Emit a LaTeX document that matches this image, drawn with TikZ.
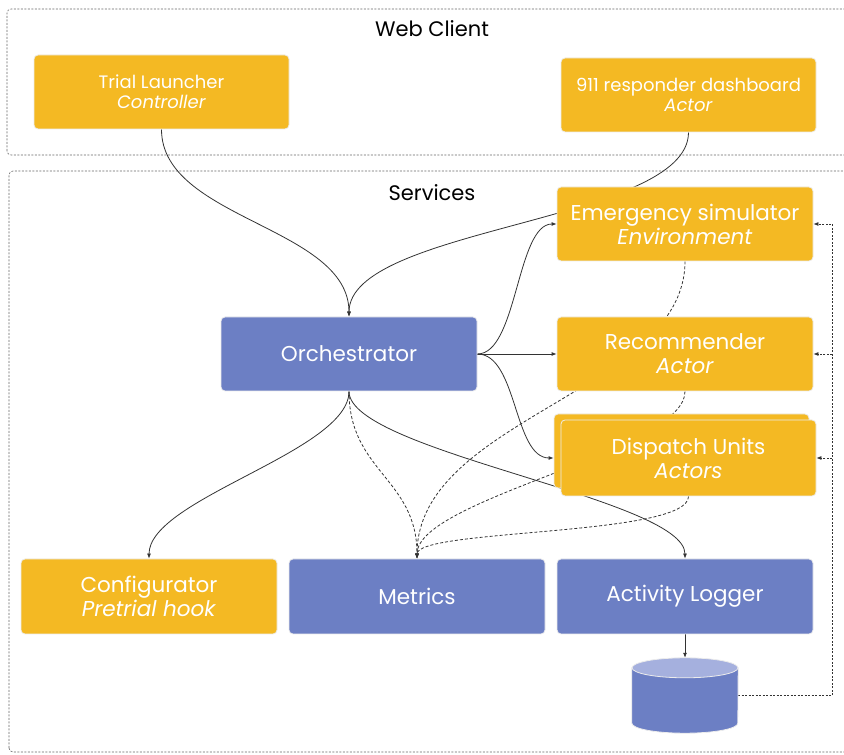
\documentclass[tikz,border=0pt]{standalone}
\usepackage{fontspec}
\setmainfont{Poppins}
\usepackage{tikz}
\usepackage{xcolor}
\usetikzlibrary{arrows.meta}
\usetikzlibrary{backgrounds}
\definecolor{boxorange}{HTML}{F4B923}
\definecolor{boxblue}{HTML}{6C7FC4}
\definecolor{dbtop}{HTML}{A5B0DE}
\definecolor{linegray}{HTML}{333333}
\tikzset{>={Latex[length=5pt,width=4pt]}}
\tikzset{
	tile/.style={rounded corners=4pt, draw=white!85!gray, line width=0.8pt, text=white, minimum width=256pt, minimum height=74pt, inner sep=0pt, align=center},
	orangetile/.style={tile, fill=boxorange},
	bluetile/.style={tile, fill=boxblue},
	bigtxt/.style={font=\fontsize{21.5}{24}\selectfont},
	smalltxt/.style={font=\fontsize{18}{20}\selectfont},
	grouptxt/.style={font=\fontsize{21}{24}\selectfont},
	region/.style={draw=gray!80!black, dash pattern=on 2pt off 1.5pt, rounded corners=4pt, line width=0.6pt},
	link/.style={draw=linegray, line width=0.8pt, ->},
	dlink/.style={link, dash pattern=on 3pt off 2pt},
}

\begin{document}
\begin{tikzpicture}[x=1pt,y=1pt]
		\useasboundingbox (0,0) rectangle (844,755);
		\node[grouptxt] (webclient) at (432,726) {Web Client};
		\node[grouptxt] (services) at (432,562) {Services};
		\node[orangetile, smalltxt, minimum width=255pt] (trial) at (161.5,663) {Trial Launcher\\\textit{Controller}};
		\node[orangetile, smalltxt, minimum width=255pt] (dash911) at (688.5,660) {911 responder dashboard\\\textit{Actor}};
		\node[orangetile, bigtxt] (emerg) at (685,531) {Emergency simulator\\\textit{Environment}};
		\node[bluetile, bigtxt] (orch) at (349,401) {Orchestrator};
		\node[orangetile, bigtxt] (recom) at (685,401) {Recommender\\\textit{Actor}};
		\node[orangetile, minimum width=255pt] (dispatchback) at (681.5,304) {};
		\node[orangetile, bigtxt, minimum width=255pt, minimum height=76pt] (dispatch) at (688.5,297) {Dispatch Units\\\textit{Actors}};
		\node[orangetile, bigtxt, minimum height=75pt] (config) at (149,158.5) {Configurator\\\textit{Pretrial hook}};
		\node[bluetile, bigtxt, minimum height=75pt] (metrics) at (417,158.5) {Metrics};
		\node[bluetile, bigtxt, minimum height=75pt] (logger) at (685,158.5) {Activity Logger};
		\node[minimum width=106pt, minimum height=75pt, inner sep=0pt] (db) at (685,59.5) {};
		\fill[boxblue, draw=white!85!gray, line width=0.8pt] ([yshift=-10pt]db.north west) -- ([yshift=10pt]db.south west) arc[start angle=180, end angle=360, x radius=53, y radius=10] -- ([yshift=-10pt]db.north east) -- cycle;
		\filldraw[fill=dbtop, draw=white!85!gray, line width=0.8pt] ([yshift=-10pt]db.north) ellipse[x radius=53, y radius=10];
		\begin{scope}[on background layer]
		\draw[region] (7,600) rectangle (852,746);
		\draw[region] (9,3) rectangle (852,584);
		\draw[link] (trial.south) .. controls +(0,-90) and +(0,90) .. (orch.north);
		\draw[link] (dash911.south) .. controls +(0,-90) and +(0,90) .. (orch.north);
		\draw[link] (orch.east) .. controls +(40,0) and +(-40,0) .. (emerg.west);
		\draw[link] (orch.east) -- (recom.west);
		\draw[link] (orch.east) .. controls +(40,0) and +(-40,0) .. (dispatchback.west |- dispatch.west);
		\draw[link] (orch.south) .. controls +(0,-60) and +(0,60) .. (config.north);
		\draw[link] (orch.south) .. controls +(0,-60) and +(0,60) .. (logger.north);
		\draw[dlink] (orch.south) .. controls +(0,-80) and +(0,80) .. (metrics.north);
		\draw[dlink] (emerg.south) .. controls +(0,-130) and +(0,140) .. (metrics.north);
		\draw[dlink] (recom.south) .. controls +(0,-60) and +(0,60) .. (metrics.north);
		\draw[dlink] (dispatch.south) .. controls +(0,-40) and +(0,30) .. (metrics.north);
		\draw[link] (logger.south) -- (db.north);
		\draw[dlink, dash pattern=on 2pt off 1.5pt] (db.east) -| ([xshift=19pt]emerg.east) -- (emerg.east);
		\draw[dlink, dash pattern=on 2pt off 1.5pt] ([xshift=19pt]recom.east) -- (recom.east);
		\draw[dlink, dash pattern=on 2pt off 1.5pt] ([xshift=16pt]dispatch.east) -- (dispatch.east);
		\end{scope}
	\end{tikzpicture}
\end{document}
